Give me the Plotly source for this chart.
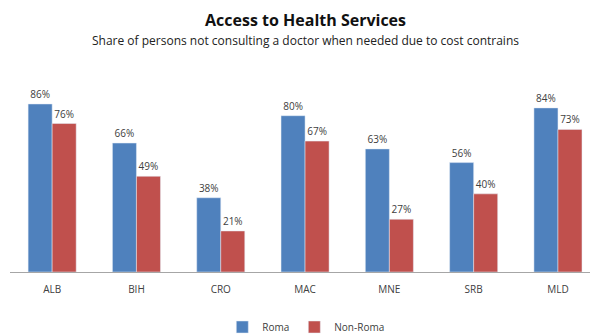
import plotly.graph_objects as go

categories = ["ALB", "BIH", "CRO", "MAC", "MNE", "SRB", "MLD"]
roma = [86, 66, 38, 80, 63, 56, 84]
non_roma = [76, 49, 21, 67, 27, 40, 73]

txt_color = "#404040"
fig = go.Figure()
fig.add_trace(go.Bar(x=categories, y=roma, name="Roma", marker_color="#4F81BD",
                     text=[f"{v}%" for v in roma], textposition="outside",
                     textfont=dict(size=10, color=txt_color), cliponaxis=False))
fig.add_trace(go.Bar(x=categories, y=non_roma, name="Non-Roma", marker_color="#C0504D",
                     text=[f"{v}%" for v in non_roma], textposition="outside",
                     textfont=dict(size=10, color=txt_color), cliponaxis=False))

top, bottom = 70, 63
plot_h = 335 - top - bottom
base = 335 - bottom

fig.update_layout(
    width=590, height=335,
    margin=dict(l=10, r=0, t=top, b=bottom, autoexpand=False),
    paper_bgcolor="white", plot_bgcolor="white",
    barmode="group", bargap=0.43, bargroupgap=0,
    font=dict(family="Open Sans, sans-serif", color=txt_color),
    showlegend=True,
    legend=dict(orientation="h", x=0.51, xanchor="center", y=-(327 - base) / plot_h, yanchor="middle",
                font=dict(size=10, color=txt_color), itemwidth=30,
                traceorder="normal"),
    xaxis=dict(range=[-0.5, 6.38], showline=True, linecolor="#A6A6A6", linewidth=1,
               ticks="", ticklabelstandoff=8, tickfont=dict(size=10, color=txt_color), fixedrange=True),
    yaxis=dict(range=[0, 103.4], visible=False, showgrid=False),
    annotations=[
        dict(text="<b>Access to Health Services</b>", x=0.51, y=(base - 20) / plot_h,
             xref="paper", yref="paper", yanchor="middle", showarrow=False,
             font=dict(size=16, color="#111111", family="Open Sans, sans-serif")),
        dict(text="Share of persons not consulting a doctor when needed due to cost contrains",
             x=0.51, y=(base - 40) / plot_h, xref="paper", yref="paper", yanchor="middle",
             showarrow=False, font=dict(size=12, color="#222222")),
    ],
)

fig.write_html("out.html")
